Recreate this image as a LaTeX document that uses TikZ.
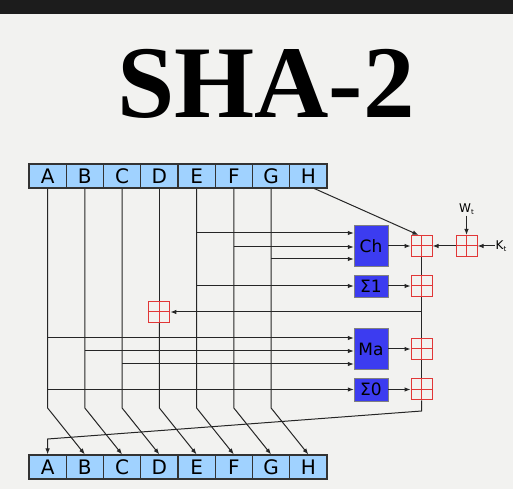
\documentclass[tikz,border=0pt]{standalone}
\usepackage{fontspec}
\newfontfamily\titlefont{Liberation Serif}
\newfontfamily\regfont{DejaVu Sans}
\usetikzlibrary{positioning,arrows.meta}
\definecolor{bgcol}{RGB}{242,242,240}
\definecolor{barcol}{RGB}{28,28,28}
\definecolor{regblue}{RGB}{160,210,255}
\definecolor{funcblue}{RGB}{60,60,240}
\definecolor{addred}{RGB}{225,55,55}
\tikzset{
  cell/.style={draw=black!80, line width=1.1pt, fill=regblue, minimum width=37.25pt,
    minimum height=24pt, inner sep=0pt, font=\regfont\fontsize{20}{20}\selectfont},
  func/.style={draw=black!50, fill=funcblue, minimum width=34pt, inner sep=0pt,
    font=\regfont\fontsize{17}{17}\selectfont},
  adder/.style={draw=addred, fill=bgcol, line width=1pt, minimum size=21pt, inner sep=0pt,
    path picture={\draw[addred, line width=1pt]
      (path picture bounding box.north) -- (path picture bounding box.south)
      (path picture bounding box.west) -- (path picture bounding box.east);}},
  wire/.style={line width=1pt, black!85},
  small/.style={font=\regfont\fontsize{12}{12}\selectfont, inner sep=1pt},
  tip/.style={-{Latex[length=6pt,width=4.5pt]}},
}
\newcommand{\subt}{\raisebox{-0.35ex}{\fontsize{7}{7}\selectfont t}}
\begin{document}
\begin{tikzpicture}[x=1pt, y=1pt]
\fill[bgcol] (0,0) rectangle (513,489);
\useasboundingbox (0,0) rectangle (513,489);
\fill[barcol] (0,475) rectangle (513,489);
\node[anchor=base, inner sep=0pt, font=\titlefont\bfseries\fontsize{103}{103}\selectfont] (title) at (266,371) {SHA-2};

% registers, before and after the round
\foreach \l [count=\i from 0] in {A,B,C,D,E,F,G,H} {
  \node[cell] (t\l) at (47.6+37.25*\i, 313) {\l};
  \node[cell] (b\l) at (47.6+37.25*\i, 22) {\l};
}

% functions
\node[func, minimum height=41pt] (ch) at (371,243) {Ch};
\node[func, minimum height=22pt] (sig1) at (371,203) {Σ1};
\node[func, minimum height=41pt] (ma) at (371,140) {Ma};
\node[func, minimum height=23pt] (sig0) at (371,99.5) {Σ0};

% adders
\coordinate (dRow) at (0,177);
\coordinate (low) at (0,81);
\node[adder] (addCh) at (421.5,243) {};
\node[adder] (addWK) at (466.5,243) {};
\node[adder] (addS1) at (421.5,203) {};
\node[adder] (addD) at (tD |- dRow) {};
\node[adder] (addMa) at (421.5,140) {};
\node[adder] (addS0) at (421.5,99.5) {};

\node[small] (wt) at (466.5,280) {W\subt};
\node[small] (kt) at (501,243) {K\subt};

% register wires, shifted one place
\foreach \a/\b in {A/B,B/C,C/D,E/F,F/G,G/H}
  \draw[wire,tip] (t\a.south) -- (t\a.south |- low) -- (b\b.north);
\draw[wire] (tD.south) -- (addD.north);
\draw[wire,tip] (addD.south) -- (addD |- low) -- (bE.north);
\draw[wire,tip] ([xshift=6pt]tH.south) -- ([xshift=-3pt]addCh.north);

% inputs
\coordinate (chE) at ([yshift=13pt]ch.west);
\coordinate (chF) at ([yshift=-1pt]ch.west);
\coordinate (chG) at ([yshift=-13pt]ch.west);
\coordinate (maA) at ([yshift=11pt]ma.west);
\coordinate (maB) at ([yshift=-2pt]ma.west);
\coordinate (maC) at ([yshift=-15pt]ma.west);
\draw[wire,tip] (tE.south |- chE) -- (chE);
\draw[wire,tip] (tF.south |- chF) -- (chF);
\draw[wire,tip] (tG.south |- chG) -- (chG);
\draw[wire,tip] (tE.south |- sig1.west) -- (sig1.west);
\draw[wire,tip] (tA.south |- maA) -- (maA);
\draw[wire,tip] (tB.south |- maB) -- (maB);
\draw[wire,tip] (tC.south |- maC) -- (maC);
\draw[wire,tip] (tA.south |- sig0.west) -- (sig0.west);

% outputs into the adders
\draw[wire,tip] (ch.east) -- (addCh.west);
\draw[wire,tip] (sig1.east) -- (addS1.west);
\draw[wire,tip] (ma.east) -- (addMa.west);
\draw[wire,tip] (sig0.east) -- (addS0.west);
\draw[wire,tip] (addWK.west) -- (addCh.east);
\draw[wire,tip] (wt.south) -- (addWK.north);
\draw[wire,tip] (kt.west) -- (addWK.east);

% T1 chain
\coordinate (tap) at (addS1 |- dRow);
\coordinate (corner) at (421.7,78);
\coordinate (aIn) at (bA.north |- 0,50);
\draw[wire] (addCh.south) -- (addS1.north);
\draw[wire] (addS1.south) -- (addMa.north);
\draw[wire] (addMa.south) -- (addS0.north);
\draw[wire,tip] (addS0.south) -- (corner) -- (aIn) -- (bA.north);
\draw[wire,tip] (tap) -- (addD.east);
\end{tikzpicture}
\end{document}
